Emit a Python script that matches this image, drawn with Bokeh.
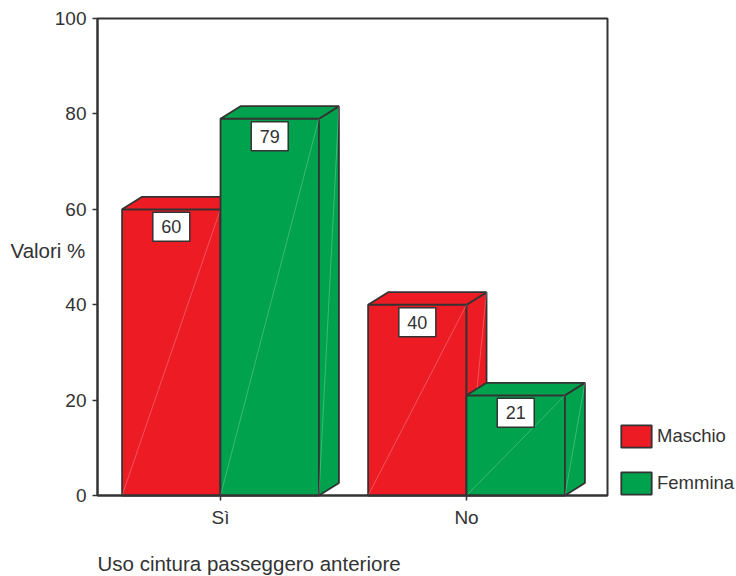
from bokeh.plotting import figure
from bokeh.models import Range1d, FixedTicker, Label, Legend, LegendItem, ColumnDataSource
from bokeh.core.properties import value
from bokeh.embed import file_html
from bokeh.resources import INLINE

# --- data -----------------------------------------------------------------
categories = ["Sì", "No"]
series_names = ["Maschio", "Femmina"]
maschio = [60, 40]
femmina = [79, 21]
y_ticks = [0, 20, 40, 60, 80, 100]

# --- style ----------------------------------------------------------------
FONT = "Liberation Sans"
INK = "#333333"
EDGE = "#333333"
colors = ["#ED1C24", "#00A24D"]

W, H = 736, 576
# plot box (pixels from the canvas' top-left corner)
BOX_L, BOX_R, BOX_T, BOX_B = 97, 607, 18, 495

# data extent of the plot box
x_lo, x_hi = 0.5, 2.573
y_lo, y_hi = 0, 100
px_x = (BOX_R - BOX_L) / (x_hi - x_lo)
px_y = (BOX_B - BOX_T) / (y_hi - y_lo)

# the frame spans the whole canvas so that titles and legend are never clipped
x_start = x_lo - BOX_L / px_x
x_end = x_hi + (W - BOX_R) / px_x
y_start = y_lo - (H - BOX_B) / px_y
y_end = y_hi + BOX_T / px_y

bar_w = 0.4
depth_dx = 20 / px_x
depth_dy = 12.5 / px_y

p = figure(width=W, height=H, output_backend="svg", toolbar_location=None,
           x_range=Range1d(x_start, x_end), y_range=Range1d(y_start, y_end),
           min_border=0, min_border_left=0, min_border_right=0,
           min_border_top=0, min_border_bottom=0)
p.xgrid.visible = False
p.ygrid.visible = False
p.background_fill_color = "white"
p.border_fill_color = "white"
p.outline_line_color = None

# axes pinned to the plot box
p.yaxis.fixed_location = x_lo
p.xaxis.fixed_location = y_lo
p.yaxis.bounds = (y_lo, y_hi)
p.xaxis.bounds = (x_lo, x_hi)
for ax in (p.xaxis[0], p.yaxis[0]):
    ax.axis_line_color = EDGE
    ax.axis_line_width = 2
    ax.major_tick_line_color = EDGE
    ax.major_tick_line_width = 1.5
    ax.major_tick_in = 0
    ax.major_tick_out = 5
    ax.minor_tick_line_color = None
    ax.major_label_text_font = FONT
    ax.major_label_text_font_size = "19px"
    ax.major_label_text_color = INK

p.yaxis.ticker = FixedTicker(ticks=y_ticks)
p.yaxis.major_label_standoff = 6
cat_pos = [i + 1 for i in range(len(categories))]
p.xaxis.ticker = FixedTicker(ticks=cat_pos)
p.xaxis.major_label_overrides = {pos: c for pos, c in zip(cat_pos, categories)}
p.xaxis.major_label_standoff = 6

# top and right sides of the plot box
p.quad(left=[x_lo], right=[x_hi], bottom=[y_lo], top=[y_hi],
       fill_color=None, line_color=EDGE, line_width=2)


def bar_geometry(x0s, vals):
    """Front, side and top faces of 3D bars."""
    x1s = [x + bar_w for x in x0s]
    side_xs = [[x1, x1 + depth_dx, x1 + depth_dx, x1] for x1 in x1s]
    side_ys = [[0, depth_dy, v + depth_dy, v] for v in vals]
    top_xs = [[x0, x0 + depth_dx, x1 + depth_dx, x1] for x0, x1 in zip(x0s, x1s)]
    top_ys = [[v, v + depth_dy, v + depth_dy, v] for v in vals]
    return x1s, side_xs, side_ys, top_xs, top_ys


legend_items = []
for name, vals, col, shift in zip(series_names, [maschio, femmina], colors, [-bar_w, 0.0]):
    x0s = [c + shift for c in cat_pos]
    x1s, side_xs, side_ys, top_xs, top_ys = bar_geometry(x0s, vals)
    front = p.quad(left=x0s, right=x1s, bottom=[0] * len(vals), top=vals,
                   fill_color=col, line_color=EDGE, line_width=1.8)
    p.patches(xs=side_xs, ys=side_ys, fill_color=col, line_color=EDGE, line_width=1.8)
    p.patches(xs=top_xs, ys=top_ys, fill_color=col, line_color=EDGE, line_width=1.8)
    # faint facet diagonals
    p.segment(x0=x0s, y0=[0] * len(vals), x1=x1s, y1=vals,
              line_color="white", line_alpha=0.3, line_width=0.8)
    p.segment(x0=x1s, y0=[0] * len(vals), x1=[x + depth_dx for x in x1s],
              y1=[v + depth_dy for v in vals],
              line_color="white", line_alpha=0.3, line_width=0.8)
    legend_items.append(LegendItem(label=name, renderers=[front]))

    # value boxes just under the top edge of each front face
    centers = [(a + b) / 2 for a, b in zip(x0s, x1s)]
    box_y = [v - 17.5 / px_y for v in vals]
    src = ColumnDataSource(dict(x=centers, y=box_y, txt=[str(v) for v in vals]))
    p.rect(x="x", y="y", width=37, height=29, width_units="screen", height_units="screen",
           source=src, fill_color="white", line_color=EDGE, line_width=1.5)
    p.text(x="x", y="y", text="txt", source=src, text_align="center",
           text_baseline="middle", text_font=value(FONT), text_font_size="18px",
           text_color=INK)

legend = Legend(items=legend_items, location=(617, 79), orientation="vertical",
                glyph_width=38, glyph_height=28, label_height=28, spacing=19,
                label_standoff=2, padding=0, margin=0,
                border_line_color=None, background_fill_alpha=0,
                label_text_font=FONT, label_text_font_size="18.5px",
                label_text_color=INK)
p.add_layout(legend, "center")

# axis titles (screen units measured from the bottom-left corner)
p.add_layout(Label(x=10, y=H - 250, x_units="screen", y_units="screen", text="Valori %",
                   text_align="left", text_baseline="middle", text_font=FONT,
                   text_font_size="20.5px", text_color=INK))
p.add_layout(Label(x=BOX_L, y=13, x_units="screen", y_units="screen",
                   text="Uso cintura passeggero anteriore",
                   text_align="left", text_baseline="middle", text_font=FONT,
                   text_font_size="20.5px", text_color=INK))

open("out.html", "w").write(file_html(p, INLINE))
